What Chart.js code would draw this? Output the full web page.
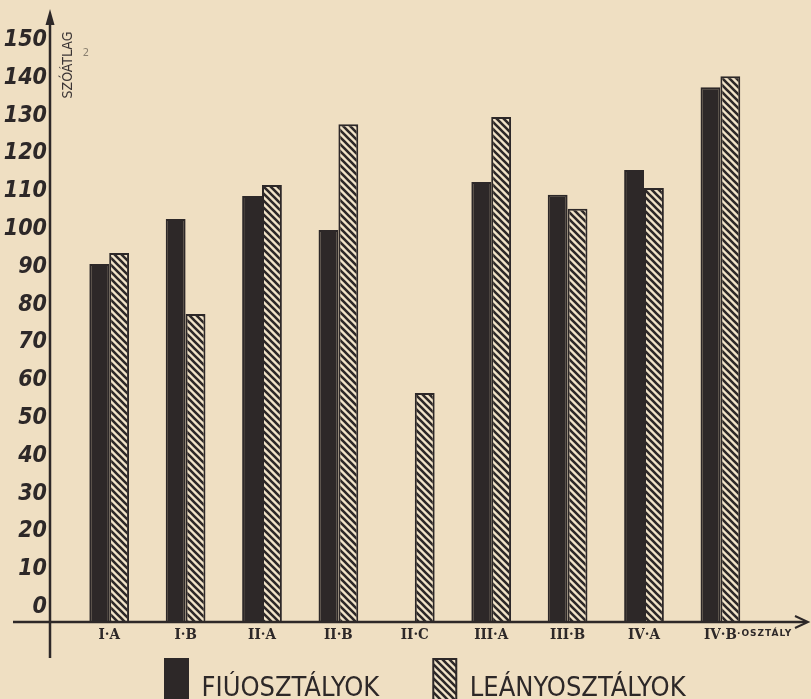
<!DOCTYPE html>
<html>
<head>
<meta charset="utf-8">
<script src="https://cdn.jsdelivr.net/npm/chart.js@4.4.0/dist/chart.umd.min.js"></script>
<style>
  html, body { margin: 0; padding: 0; background: #efdfc2; }
  #wrap { width: 811px; height: 699px; }
</style>
</head>
<body>
<div id="wrap"><canvas id="mycanvas" width="811" height="699"></canvas></div>
<script>
// osztályok
var categories = ['I·A', 'I·B', 'II·A', 'II·B', 'II·C', 'III·A', 'III·B', 'IV·A', 'IV·B'];
// szóátlag, fiúosztályok / leányosztályok
var fiuValues = [94.7, 106.6, 112.7, 103.7, null, 116.4, 113.0, 119.6, 141.5];
var leanyValues = [97.6, 81.5, 115.6, 131.7, 60.6, 133.6, 109.3, 114.8, 144.4];
var seriesNames = ['FIÚOSZTÁLYOK', 'LEÁNYOSZTÁLYOK'];
var yMin = 0;
var yMax = 150;
var yStep = 10;

var ink = '#2d2828';
var paper = '#efdfc2';

// hatching for the girls' bars
function makeHatch() {
    var c = document.createElement('canvas');
    c.width = 7;
    c.height = 7;
    var g = c.getContext('2d');
    g.fillStyle = '#f1e3c8';
    g.fillRect(0, 0, 7, 7);
    g.strokeStyle = ink;
    g.lineWidth = 2.6;
    g.beginPath();
    g.moveTo(-1, -1); g.lineTo(8, 8);
    g.moveTo(-5, 2); g.lineTo(5, 12);
    g.moveTo(2, -5); g.lineTo(12, 5);
    g.stroke();
    return g.createPattern(c, 'repeat');
}

// axis lines, arrows and the hand written axis texts
var axesPlugin = {
    id: 'axesPlugin',
    afterLayout: function(chart) {
        // move the legend under the chart like in the original
        var lg = chart.legend;
        var pad = lg.options.labels.padding;
        lg.left = 165 - pad;
        lg.right = 811;
        lg.top = 659 - pad;
        lg.bottom = 699;
    },
    afterDatasetsDraw: function(chart) {
        var ctx = chart.ctx;
        var y0 = chart.scales.y.getPixelForValue(0);
        var ax = chart.chartArea.left - 21;
        ctx.save();
        ctx.strokeStyle = ink;
        ctx.fillStyle = ink;
        ctx.lineWidth = 2.5;
        // y axis
        ctx.beginPath();
        ctx.moveTo(ax, 658);
        ctx.lineTo(ax, 20);
        ctx.stroke();
        ctx.beginPath();
        ctx.moveTo(ax, 9);
        ctx.lineTo(ax - 4.5, 25);
        ctx.lineTo(ax + 4.5, 25);
        ctx.closePath();
        ctx.fill();
        // x axis
        ctx.beginPath();
        ctx.moveTo(13, y0);
        ctx.lineTo(806, y0);
        ctx.stroke();
        ctx.lineWidth = 2;
        ctx.beginPath();
        ctx.moveTo(795, y0 - 6);
        ctx.lineTo(808, y0);
        ctx.lineTo(795, y0 + 6);
        ctx.stroke();

        // y axis title
        ctx.save();
        ctx.translate(68, 65);
        ctx.rotate(-Math.PI / 2);
        ctx.font = '14px "DejaVu Sans Condensed"';
        ctx.textAlign = 'center';
        ctx.textBaseline = 'middle';
        ctx.fillStyle = '#3a3434';
        ctx.fillText('SZÓÁTLAG', 0, 0);
        ctx.restore();
        ctx.font = '10px "DejaVu Sans"';
        ctx.fillStyle = '#8a8070';
        ctx.textAlign = 'center';
        ctx.textBaseline = 'middle';
        ctx.fillText('2', 86, 53);

        // x axis title
        ctx.fillStyle = ink;
        ctx.font = 'bold 9px "DejaVu Sans"';
        ctx.letterSpacing = '1px';
        ctx.textAlign = 'left';
        ctx.fillText('·OSZTÁLY', 737, 634);
        ctx.restore();
    }
};

var hatch = makeHatch();

var chartdata = {
    labels: categories,
    datasets: [{
            label: seriesNames[0],
            backgroundColor: ink,
            borderColor: ink,
            borderWidth: 2,
            borderSkipped: 'bottom',
            data: fiuValues
        },
        {
            label: seriesNames[1],
            backgroundColor: hatch,
            borderColor: ink,
            borderWidth: 2,
            borderSkipped: 'bottom',
            data: leanyValues
        }
    ]
};

var ctx = document.getElementById('mycanvas');

var BarGraph = new Chart(ctx, {
    type: 'bar',
    data: chartdata,
    plugins: [axesPlugin],
    options: {
        responsive: false,
        animation: false,
        layout: {
            padding: { top: 55, right: 52.4, bottom: 0, left: 0 }
        },
        datasets: {
            bar: { categoryPercentage: 0.52, barPercentage: 1.0 }
        },
        scales: {
            x: {
                grid: { display: false, drawTicks: false },
                border: { display: false },
                ticks: {
                    color: ink,
                    padding: 4,
                    font: { family: '"DejaVu Serif Condensed"', size: 15, weight: 'bold' }
                },
                afterFit: function(scale) { scale.height = 29; }
            },
            y: {
                min: yMin,
                max: yMax,
                grid: { display: false, drawTicks: false },
                border: { display: false },
                ticks: {
                    stepSize: yStep,
                    color: ink,
                    padding: 24,
                    labelOffset: -15,
                    font: { family: '"DejaVu Sans Condensed"', size: 23, weight: 'bold', style: 'italic' }
                },
                afterFit: function(scale) { scale.width = 71; }
            }
        },
        plugins: {
            tooltip: { enabled: false },
            legend: {
                position: 'bottom',
                align: 'start',
                maxHeight: 48,
                labels: {
                    boxWidth: 23,
                    boxHeight: 60,
                    padding: 54,
                    color: ink,
                    font: { family: '"DejaVu Sans Condensed"', size: 27 }
                }
            }
        }
    }
});
</script>
</body>
</html>
